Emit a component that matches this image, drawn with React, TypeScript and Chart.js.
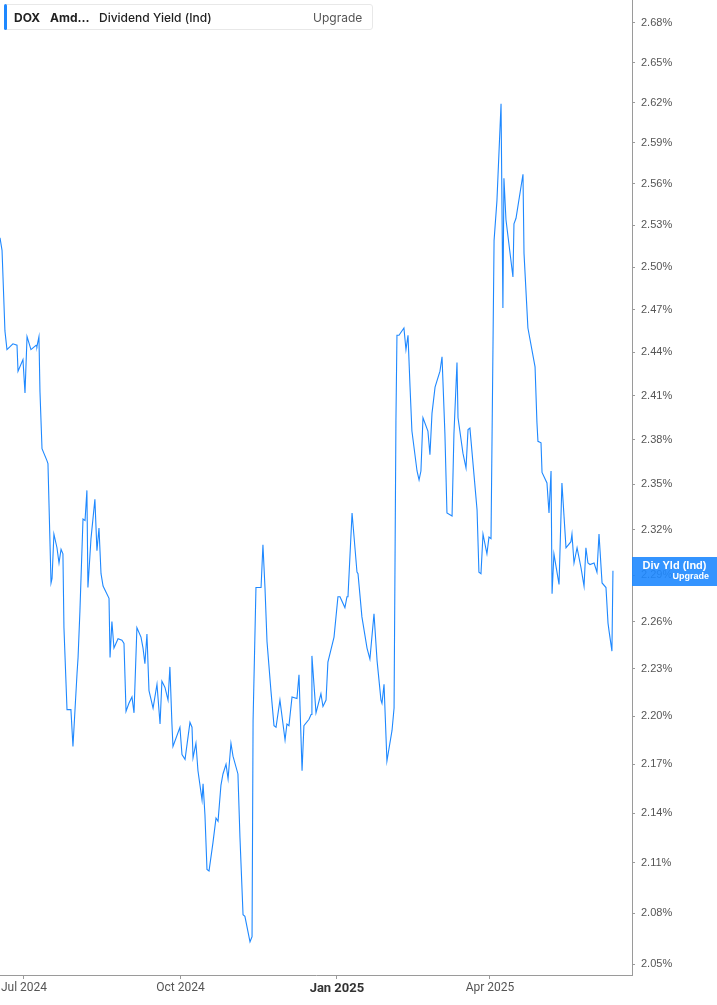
import React, { useEffect, useRef } from 'react';
import { Chart, registerables } from 'chart.js';

Chart.register(...registerables);

// Days since 2024-07-01 for each trading observation
const dayOffsets = [
  -14.1, -12.9, -11.2, -10.0, -8.2, -6.5, -4.1, -3.5, -0.6, 0.6,
  1.8, 4.1, 7.1, 7.6, 8.8, 9.4, 10.6, 13.5, 14.1, 15.9,
  16.5, 17.6, 19.4, 20.6, 21.8, 22.9, 23.5, 25.3, 27.6, 28.8,
  31.2, 31.8, 32.9, 34.7, 35.9, 37.0, 37.6, 39.4, 41.7, 42.9,
  44.1, 45.3, 46.5, 50.0, 50.6, 51.7, 52.9, 55.3, 57.6, 58.8,
  60.0, 61.7, 63.5, 64.7, 66.4, 68.8, 70.0, 71.1, 72.3, 73.5,
  75.9, 78.2, 80.0, 81.1, 82.9, 84.7, 85.8, 87.0, 87.6, 91.7,
  92.9, 94.7, 97.6, 98.8, 99.4, 101.1, 102.3, 104.7, 105.3, 106.4,
  107.6, 108.8, 111.1, 112.9, 114.1, 115.8, 117.0, 118.8, 120.0, 121.7,
  122.9, 125.8, 127.0, 128.8, 129.9, 132.9, 134.1, 134.7, 136.4, 139.4,
  140.5, 141.7, 142.9, 145.2, 147.0, 148.2, 150.5, 153.5, 154.6, 155.8,
  157.6, 160.5, 161.7, 163.5, 164.6, 167.6, 168.8, 169.3, 171.7, 174.6,
  175.8, 177.6, 178.7, 182.3, 184.6, 185.8, 188.7, 189.9, 190.5, 192.9,
  195.8, 196.4, 198.7, 201.7, 203.4, 205.8, 207.6, 209.9, 210.5, 211.7,
  213.4, 216.4, 217.6, 218.7, 219.3, 220.5, 223.4, 224.6, 225.8, 227.0,
  228.1, 231.1, 232.3, 233.4, 234.6, 237.5, 238.7, 239.9, 241.7, 244.6,
  245.8, 247.5, 248.7, 251.7, 252.8, 254.6, 255.2, 258.1, 259.9, 261.1,
  262.2, 266.4, 267.5, 268.7, 269.9, 272.2, 273.4, 274.6, 276.4, 278.1,
  280.5, 281.6, 282.2, 283.4, 287.5, 288.1, 289.3, 293.4, 294.0, 296.3,
  300.5, 301.6, 302.2, 304.0, 304.6, 307.5, 308.7, 309.9, 310.5, 311.6,
  314.6, 316.3, 318.7, 321.6, 322.2, 323.4, 325.2, 327.5, 329.3, 330.4,
  331.6, 332.8, 335.2, 336.9, 338.1, 339.9, 342.2, 343.4, 344.0, 345.7,
  346.3,
];

// Dividend yield (indicated), percent
const yieldValues = [
  2.521, 2.512, 2.455, 2.442, 2.444, 2.446, 2.445, 2.427, 2.435, 2.412,
  2.451, 2.442, 2.445, 2.444, 2.451, 2.413, 2.374, 2.366, 2.364, 2.285,
  2.288, 2.317, 2.308, 2.298, 2.307, 2.304, 2.256, 2.204, 2.204, 2.181,
  2.227, 2.237, 2.267, 2.327, 2.326, 2.346, 2.282, 2.314, 2.340, 2.306,
  2.321, 2.291, 2.283, 2.275, 2.237, 2.260, 2.243, 2.249, 2.248, 2.246,
  2.203, 2.208, 2.212, 2.202, 2.256, 2.250, 2.243, 2.233, 2.252, 2.216,
  2.205, 2.220, 2.195, 2.222, 2.218, 2.210, 2.231, 2.195, 2.181, 2.193,
  2.176, 2.173, 2.196, 2.193, 2.174, 2.183, 2.166, 2.148, 2.158, 2.139,
  2.106, 2.105, 2.122, 2.137, 2.135, 2.157, 2.164, 2.170, 2.161, 2.183,
  2.175, 2.164, 2.125, 2.079, 2.078, 2.063, 2.066, 2.197, 2.282, 2.282,
  2.310, 2.282, 2.247, 2.216, 2.194, 2.193, 2.210, 2.185, 2.195, 2.194,
  2.212, 2.211, 2.226, 2.166, 2.194, 2.198, 2.201, 2.238, 2.202, 2.214,
  2.206, 2.210, 2.234, 2.250, 2.276, 2.276, 2.269, 2.276, 2.276, 2.331,
  2.292, 2.291, 2.263, 2.243, 2.236, 2.265, 2.235, 2.210, 2.208, 2.220,
  2.172, 2.191, 2.205, 2.393, 2.452, 2.452, 2.457, 2.442, 2.452, 2.416,
  2.386, 2.359, 2.353, 2.359, 2.395, 2.386, 2.370, 2.398, 2.416, 2.427,
  2.437, 2.384, 2.331, 2.329, 2.384, 2.433, 2.395, 2.371, 2.361, 2.387,
  2.388, 2.333, 2.292, 2.291, 2.317, 2.304, 2.315, 2.314, 2.519, 2.548,
  2.619, 2.471, 2.564, 2.534, 2.493, 2.531, 2.535, 2.567, 2.510, 2.457,
  2.430, 2.392, 2.379, 2.378, 2.358, 2.351, 2.331, 2.359, 2.278, 2.304,
  2.284, 2.351, 2.308, 2.312, 2.317, 2.298, 2.308, 2.295, 2.283, 2.308,
  2.298, 2.297, 2.298, 2.292, 2.317, 2.285, 2.282, 2.259, 2.254, 2.241,
  2.293,
];

const xTickDays = [0, 92, 184, 274];
const xTickLabels = ['Jul 2024', 'Oct 2024', 'Jan 2025', 'Apr 2025'];
const yTickValues = [
  2.05, 2.08, 2.11, 2.14, 2.17, 2.2, 2.23, 2.26, 2.29, 2.32, 2.35,
  2.38, 2.41, 2.44, 2.47, 2.5, 2.53, 2.56, 2.59, 2.62, 2.65, 2.68,
];

const LINE_COLOR = '#1e88ff';
const AXIS_COLOR = '#9a9a9a';

export default function App() {
  const canvasRef = useRef<HTMLCanvasElement | null>(null);

  useEffect(() => {
    document.body.style.margin = '0';
    const canvas = canvasRef.current;
    if (!canvas) return;
    const points = dayOffsets.map((d, i) => ({ x: d, y: yieldValues[i] }));
    const chart = new Chart(canvas, {
      type: 'line',
      data: {
        datasets: [
          {
            data: points,
            borderColor: LINE_COLOR,
            borderWidth: 1.1,
            pointRadius: 0,
            tension: 0,
            fill: false,
          },
        ],
      },
      options: {
        animation: false,
        responsive: false,
        maintainAspectRatio: false,
        layout: { padding: 0 },
        plugins: { legend: { display: false }, tooltip: { enabled: false } },
        scales: {
          x: {
            type: 'linear',
            min: -14.1,
            max: 357.5,
            afterBuildTicks: (scale: any) => {
              scale.ticks = xTickDays.map((v) => ({ value: v }));
            },
            afterFit: (scale: any) => {
              scale.height = 30;
              scale.paddingLeft = 0;
              scale.paddingRight = 0;
            },
            grid: {
              display: true,
              drawOnChartArea: false,
              drawTicks: true,
              tickLength: 4,
              color: AXIS_COLOR,
            },
            border: { display: true, color: AXIS_COLOR, width: 1 },
            ticks: {
              autoSkip: false,
              maxRotation: 0,
              padding: 2,
              color: (ctx: any) => (ctx.tick && ctx.tick.value === 184 ? '#333' : '#555'),
              font: (ctx: any) =>
                ctx.tick && ctx.tick.value === 184
                  ? { family: "'Liberation Sans Narrow', 'Roboto', sans-serif", size: 13, weight: 'bold' }
                  : { family: "'Liberation Sans Narrow', 'Roboto', sans-serif", size: 12 },
              callback: (v: any) => {
                const i = xTickDays.indexOf(Number(v));
                return i >= 0 ? xTickLabels[i] : '';
              },
            },
          },
          y: {
            type: 'logarithmic',
            position: 'right',
            min: 2.0436,
            max: 2.6976,
            afterBuildTicks: (scale: any) => {
              scale.ticks = yTickValues.map((v) => ({ value: v }));
            },
            afterFit: (scale: any) => {
              scale.width = 85;
              scale.paddingTop = 0;
              scale.paddingBottom = 0;
            },
            grid: {
              display: true,
              drawOnChartArea: false,
              drawTicks: true,
              tickLength: 3,
              color: AXIS_COLOR,
            },
            border: { display: true, color: AXIS_COLOR, width: 1 },
            ticks: {
              autoSkip: false,
              padding: 6,
              color: '#555',
              font: { family: "'Liberation Sans', Arial, sans-serif", size: 11 },
              callback: (v: any) => Number(v).toFixed(2) + '%',
            },
          },
        },
      },
    } as any);
    return () => chart.destroy();
  }, []);

  return (
    <div style={{ position: 'relative', width: 717, height: 1005, overflow: 'hidden', background: '#fff' }}>
      <canvas ref={canvasRef} width={717} height={1005} style={{ display: 'block' }} />
      <div
        style={{
          position: 'absolute',
          left: 4,
          top: 4,
          width: 369,
          height: 26,
          boxSizing: 'border-box',
          background: '#fff',
          border: '1px solid #e8e8e8',
          borderRadius: 3,
          fontFamily: "Inter, 'Noto Sans', sans-serif",
          fontSize: 12,
          color: '#222',
        }}
      >
        <div style={{ position: 'absolute', left: -1, top: -1, width: 3, height: 26, background: LINE_COLOR, borderRadius: 2 }} />
        <span style={{ position: 'absolute', left: 9, top: 5, fontWeight: 700 }}>DOX</span>
        <span style={{ position: 'absolute', left: 45, top: 5, fontWeight: 700 }}>Amd…</span>
        <span style={{ position: 'absolute', left: 94, top: 5, fontWeight: 500 }}>Dividend Yield (Ind)</span>
        <span style={{ position: 'absolute', left: 308, top: 5, color: '#555' }}>Upgrade</span>
      </div>
      <div
        style={{
          position: 'absolute',
          left: 632,
          top: 557,
          width: 85,
          height: 29,
          background: 'rgba(30,136,255,0.9)',
          fontFamily: "'Liberation Sans', Arial, sans-serif",
          color: '#fff',
        }}
      >
        <div style={{ position: 'absolute', left: 0, width: 85, top: 2, textAlign: 'center', fontSize: 11, fontWeight: 700 }}>
          Div Yld (Ind)
        </div>
        <div style={{ position: 'absolute', right: 8, top: 14, fontSize: 9, fontWeight: 700 }}>Upgrade</div>
      </div>
    </div>
  );
}
